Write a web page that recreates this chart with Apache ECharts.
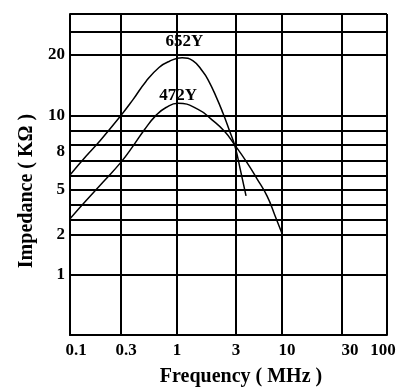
<!DOCTYPE html>
<html>
<head>
<meta charset="utf-8">
<script src="https://cdn.jsdelivr.net/npm/echarts@6/dist/echarts.min.js"></script>
<style>
  html, body { margin: 0; padding: 0; background: #fff; }
  #chart { width: 406px; height: 392px; }
</style>
</head>
<body>
<div id="chart"></div>
<script>
// frequency axis (MHz): gridline stops and where each one sits along the axis (0..1)
const freqStops = [0.1, 0.3, 1, 3, 10, 30, 100]
const freqStopPos = [0, 0.161, 0.3375, 0.5237, 0.6688, 0.858, 1]
const freqLabels = ['0.1', '0.3', '1', '3', '10', '30', '100']

// impedance axis (kΩ): the printed grid is not a true log scale, so keep its stops
const zStops = [0, 1, 2, 3, 4, 5, 6, 7, 8, 9, 10, 20, 30, 40]
const zStopPos = [0, 0.1889, 0.3127, 0.3591, 0.4056, 0.452, 0.4954, 0.5418, 0.5913, 0.6378, 0.6842, 0.873, 0.9443, 1]
const zLabels = [1, 2, 5, 8, 10, 20]

// 652Y
const freq652 = [0.1, 0.141, 0.191, 0.3, 0.388, 0.513, 0.679, 0.842, 1.1, 1.35, 1.62, 1.78, 2.07, 2.36, 2.63, 2.94, 3.33, 3.9]
const z652 = [6.07, 7.3, 8.3, 10, 12.6, 15.6, 17.9, 18.9, 19.5, 19.0, 17.2, 15.9, 13.1, 10.3, 9.07, 7.94, 6.53, 4.6]

// 472Y
const freq472 = [0.1, 0.141, 0.204, 0.3, 0.388, 0.5, 0.637, 0.79, 1.02, 1.48, 1.92, 2.44, 2.94, 4.0, 5.2, 6.75, 8.33, 10]
const z472 = [3.07, 4.27, 5.57, 6.93, 7.94, 9.07, 10, 11.3, 12.0, 11.0, 9.7, 8.9, 8.0, 6.9, 5.8, 4.6, 3.27, 2.07]

function warp(v, stops, pos, isLog) {
  for (let i = 0; i < stops.length - 1; i++) {
    const a = stops[i]
    const b = stops[i + 1]
    if (v <= b || i === stops.length - 2) {
      const t = isLog ? Math.log(v / a) / Math.log(b / a) : (v - a) / (b - a)
      return pos[i] + t * (pos[i + 1] - pos[i])
    }
  }
}
const wx = (f) => warp(f, freqStops, freqStopPos, true)
const wy = (z) => warp(z, zStops, zStopPos, false)

function nearest(list, v) {
  let best = 0
  list.forEach((p, i) => { if (Math.abs(p - v) < Math.abs(list[best] - v)) best = i })
  return best
}

const font = { fontFamily: 'Liberation Serif', fontWeight: 'bold', color: '#000' }
const gridLine = { color: '#000', width: 2 }

// small nudges so the printed labels sit where the original put them
const xNudge = { '0.1': [0, 0, 0, 12], '0.3': [0, 0, 0, 10], '10': [0, 0, 0, 10], '30': [0, 0, 0, 16], '100': [0, 8, 0, 0] }
const xRich = {}
Object.keys(xNudge).forEach((k, i) => { xRich['n' + i] = { padding: xNudge[k], fontSize: 17, ...font } })

function curve(name, freqs, zs, tag) {
  return {
    name,
    type: 'line',
    data: freqs.map((f, i) => [wx(f), wy(zs[i])]),
    smooth: 0.5,
    symbol: 'none',
    lineStyle: { color: '#000', width: 1.5 },
    markPoint: {
      symbol: 'circle',
      symbolSize: 0,
      silent: true,
      label: { show: true, position: 'inside', formatter: name, fontSize: 17, ...font },
      data: [{ coord: [wx(tag[0]), wy(tag[1])] }],
    },
  }
}

const chart = echarts.init(document.getElementById('chart'))
chart.setOption({
  animation: false,
  grid: { left: 70, right: 19, top: 14, bottom: 55 },
  xAxis: {
    type: 'value',
    min: 0,
    max: 1,
    name: 'Frequency ( MHz )',
    nameLocation: 'middle',
    nameGap: 32,
    nameTextStyle: { fontSize: 20, padding: [0, 0, 0, 25], ...font },
    axisLine: { lineStyle: gridLine },
    axisTick: { show: false, customValues: freqStopPos },
    splitLine: { show: true, lineStyle: gridLine },
    axisLabel: {
      customValues: freqStopPos,
      showMinLabel: true,
      showMaxLabel: true,
      margin: 7,
      fontSize: 17,
      ...font,
      rich: xRich,
      formatter: (v) => {
        const text = freqLabels[nearest(freqStopPos, v)]
        const idx = Object.keys(xNudge).indexOf(text)
        return idx >= 0 ? `{n${idx}|${text}}` : text
      },
    },
  },
  yAxis: {
    type: 'value',
    min: 0,
    max: 1,
    name: 'Impedance ( KΩ )',
    nameLocation: 'middle',
    nameGap: 33,
    nameTextStyle: { fontSize: 20, padding: [0, 33, 0, 0], ...font },
    axisLine: { show: true, lineStyle: gridLine },
    axisTick: { show: false, customValues: zStopPos },
    splitLine: { show: true, lineStyle: gridLine },
    axisLabel: {
      customValues: zLabels.map(wy),
      margin: 5,
      fontSize: 17,
      ...font,
      rich: { low: { padding: [12, 0, 0, 0], fontSize: 17, ...font } },
      formatter: (v) => {
        const z = zStops[nearest(zStopPos, v)]
        return z === 8 ? `{low|${z}}` : String(z)
      },
    },
  },
  series: [
    curve('652Y', freq652, z652, [1.15, 25.7]),
    curve('472Y', freq472, z472, [1.02, 13.3]),
  ],
})
</script>
</body>
</html>
